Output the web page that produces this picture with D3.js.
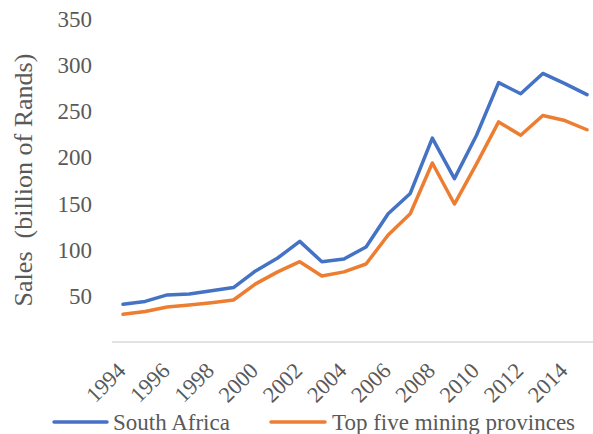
<!DOCTYPE html>
<html><head><meta charset="utf-8">
<script src="https://cdn.jsdelivr.net/npm/d3@7"></script>
<style>
body{margin:0;background:#fff;}
svg{display:block;font-family:"Liberation Serif","Times New Roman",serif;}
</style></head>
<body>
<svg id="chart" width="593" height="434"></svg>
<script>
const years = [1994,1995,1996,1997,1998,1999,2000,2001,2002,2003,2004,2005,2006,2007,2008,2009,2010,2011,2012,2013,2014,2015];
const southAfrica = [41,44,51,52,55.5,59,77,91,109,87,90,103,139,161,221,177,224,281,269,291,280,268];
const topFive = [30,33,38,40,42.5,45.5,63,76,87,71.5,76,84.5,116,139,194,149.5,193,238.5,224,245.5,240,230];
const yTicks = [50,100,150,200,250,300,350];
const xTickYears = [1994,1996,1998,2000,2002,2004,2006,2008,2010,2012,2014];
const seriesNames = ["South Africa","Top five mining provinces"];
const colors = ["#4472C4","#ED7D31"];

const svg = d3.select("#chart");
const x = d3.scalePoint().domain(years).range([123,587]);
const y = d3.scaleLinear().domain([0,350]).range([342,19]);
const step = x.step();

// axis line
svg.append("line").attr("x1", x(years[0]) - step/2).attr("x2", x(years[years.length-1]) + step/2)
  .attr("y1", y(0)).attr("y2", y(0)).attr("stroke","#d9d9d9").attr("stroke-width",1.5);

// y tick labels
svg.append("g").selectAll("text").data(yTicks).join("text")
  .attr("x", 92).attr("y", d => y(d)).attr("dy","0.35em")
  .attr("text-anchor","end").attr("font-size",23).attr("fill","#595959").text(d => d);

// y title
svg.append("text").attr("transform","translate(32,180) rotate(-90)")
  .attr("text-anchor","middle").attr("font-size",26).attr("fill","#595959")
  .style("white-space","pre").text("Sales  (billion of Rands)");

// x tick labels
svg.append("g").selectAll("text").data(xTickYears).join("text")
  .attr("transform", d => `translate(${x(d)+4},372) rotate(-45)`)
  .attr("text-anchor","end").attr("font-size",22.5).attr("fill","#595959").text(d => d);

// lines
const line = d3.line().x((d,i) => x(years[i])).y(d => y(d));
[southAfrica, topFive].forEach((s,k) => {
  svg.append("path").datum(s).attr("d", line).attr("fill","none")
    .attr("stroke", colors[k]).attr("stroke-width",3.5).attr("stroke-linejoin","round").attr("stroke-linecap","round");
});

// legend
const legendItems = [{x1:54,x2:107,tx:113},{x1:271,x2:325,tx:332}];
legendItems.forEach((l,k) => {
  svg.append("line").attr("x1",l.x1).attr("x2",l.x2).attr("y1",422).attr("y2",422)
    .attr("stroke",colors[k]).attr("stroke-width",3.5).attr("stroke-linecap","round");
  svg.append("text").attr("x",l.tx).attr("y",422).attr("dy","0.33em")
    .attr("font-size",23).attr("fill","#595959").text(seriesNames[k]);
});
</script>
</body></html>
